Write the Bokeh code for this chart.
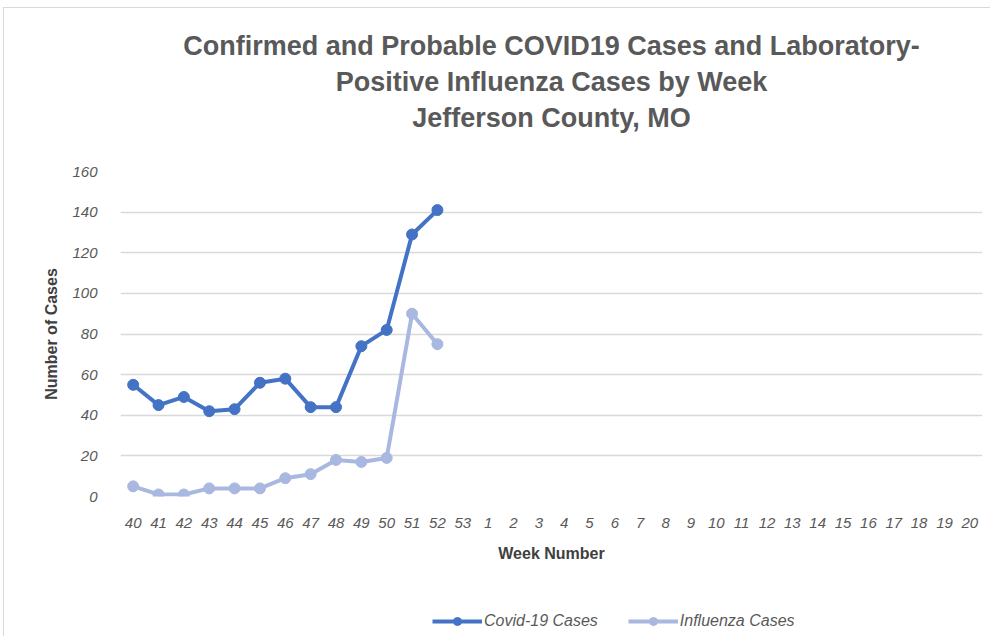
from bokeh.plotting import figure
from bokeh.layouts import column
from bokeh.models import FactorRange, Title, Legend, LegendItem, ColumnDataSource, SingleIntervalTicker, Range1d
from bokeh.embed import file_html
from bokeh.resources import INLINE

weeks = [str(w) for w in range(40, 54)] + [str(w) for w in range(1, 21)]
data_weeks = [str(w) for w in range(40, 53)]
covid_cases = [55, 45, 49, 42, 43, 56, 58, 44, 44, 74, 82, 129, 141]
flu_cases = [5, 1, 1, 4, 4, 4, 9, 11, 18, 17, 19, 90, 75]

FONT = "Liberation Sans"
COVID = "#4472C4"
FLU = "#A9B8E0"

p = figure(x_range=FactorRange(*weeks), y_range=Range1d(0, 160),
           frame_width=862, frame_height=325, output_backend="svg", toolbar_location=None,
           min_border_left=116, min_border_right=8, min_border_top=163, min_border_bottom=70)

src_c = ColumnDataSource(dict(x=data_weeks, y=covid_cases))
src_f = ColumnDataSource(dict(x=data_weeks, y=flu_cases))

p.line("x", "y", source=src_c, line_color=COVID, line_width=4)
p.scatter("x", "y", source=src_c, size=11, fill_color=COVID, line_color=COVID)
p.line("x", "y", source=src_f, line_color=FLU, line_width=4)
p.scatter("x", "y", source=src_f, size=11, fill_color=FLU, line_color=FLU)

p.outline_line_color = None
p.xgrid.grid_line_color = None
p.ygrid.grid_line_color = "#d9d9d9"
p.ygrid.grid_line_width = 1.5
p.yaxis.ticker = SingleIntervalTicker(interval=20)

for ax in (p.xaxis[0], p.yaxis[0]):
    ax.axis_line_color = None
    ax.major_tick_line_color = None
    ax.minor_tick_line_color = None
    ax.major_label_text_font = FONT
    ax.major_label_text_font_style = "italic"
    ax.major_label_text_color = "#595959"
    ax.major_label_text_font_size = "15px"
    ax.axis_label_text_font = FONT
    ax.axis_label_text_font_style = "bold"
    ax.axis_label_text_color = "#404040"
    ax.axis_label_text_font_size = "16px"

p.xaxis.axis_label = "Week Number"
p.yaxis.axis_label = "Number of Cases"
p.xaxis.major_label_standoff = 15
p.yaxis.major_label_standoff = 17
p.xaxis.axis_label_standoff = 14
p.yaxis.axis_label_standoff = 9
p.x_range.range_padding = 0
p.x_range.group_padding = 0

p.add_layout(Title(text=" ", text_font_size="1px", standoff=34), "above")
for txt in ["Jefferson County, MO",
            "Positive Influenza Cases by Week",
            "Confirmed and Probable COVID19 Cases and Laboratory-"]:
    t = Title(text=txt, align="center", text_font=FONT, text_font_style="bold",
              text_font_size="27px", text_color="#595959", standoff=4)
    p.add_layout(t, "above")

# Legend strip: a second figure below the chart; its renderers use the same
# data but lie outside its view, so only the legend entries are seen.
leg = figure(x_range=FactorRange(*weeks), y_range=Range1d(1000, 1001),
             width=986, height=70, output_backend="svg", toolbar_location=None,
             x_axis_location=None, y_axis_location=None, min_border=0)
leg.outline_line_color = None
leg.grid.grid_line_color = None
r1 = leg.line("x", "y", source=src_c, line_color=COVID, line_width=4)
r2 = leg.scatter("x", "y", source=src_c, size=11, fill_color=COVID, line_color=COVID)
r3 = leg.line("x", "y", source=src_f, line_color=FLU, line_width=4)
r4 = leg.scatter("x", "y", source=src_f, size=11, fill_color=FLU, line_color=FLU)

legend = Legend(items=[LegendItem(label="Covid-19 Cases", renderers=[r1, r2]),
                       LegendItem(label="Influenza Cases", renderers=[r3, r4])],
                orientation="horizontal", location=(312, 5),
                label_text_font=FONT, label_text_font_style="italic",
                label_text_color="#595959", label_text_font_size="16px",
                glyph_width=50, spacing=30, border_line_color=None,
                background_fill_alpha=0, margin=0, padding=6, label_standoff=2)
leg.add_layout(legend)

layout = column(p, leg)
layout.styles = {"border-top": "1px solid #d9d9d9", "border-left": "1px solid #d9d9d9",
                 "margin-top": "7px", "margin-left": "3px"}

open("out.html", "w").write(file_html(layout, INLINE))
